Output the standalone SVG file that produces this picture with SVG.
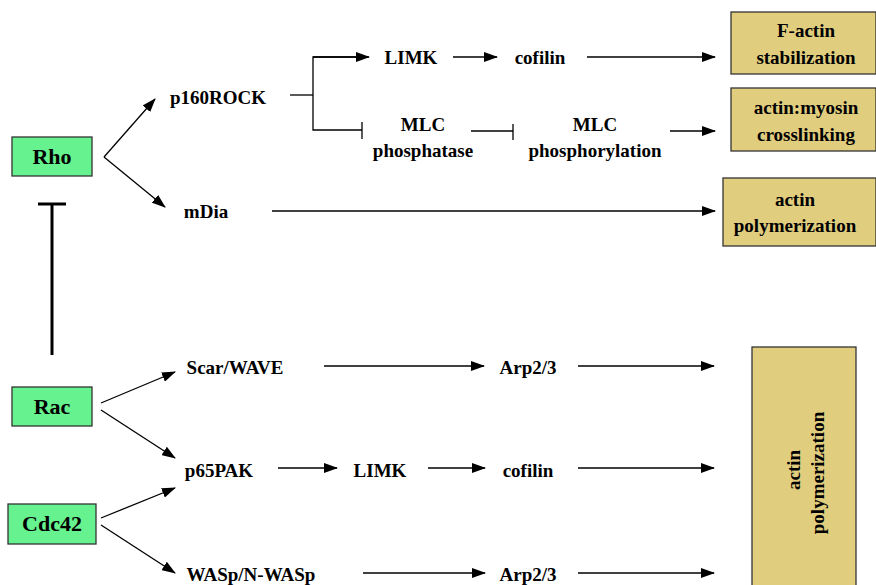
<svg xmlns="http://www.w3.org/2000/svg" width="876" height="585" viewBox="0 0 876 585">
<defs>
<marker id="ah" markerUnits="userSpaceOnUse" markerWidth="14" markerHeight="10" refX="13" refY="5" orient="auto">
<path d="M0,0 L14,5 L0,10 z" fill="#000"/>
</marker>
<style>
text{font-family:"Liberation Serif","Times New Roman",serif;font-weight:bold;fill:#000;text-anchor:middle}
.lbl{font-size:19px}
.big{font-size:22px}
.g{fill:#66F28E;stroke:#333;stroke-width:1.3}
.t{fill:#E1CD7E;stroke:#333;stroke-width:1.3}
.c{stroke:#000;stroke-width:1.3;fill:none}
.a{marker-end:url(#ah)}
</style>
</defs>
<g id="connectors">
<line class="c a" x1="104" y1="157" x2="155" y2="99"/>
<line class="c a" x1="104" y1="157" x2="165" y2="207"/>
<line x1="52" y1="204" x2="52" y2="355" stroke="#000" stroke-width="3"/>
<line x1="38" y1="204" x2="66" y2="204" stroke="#000" stroke-width="3"/>
<polyline class="c" points="290,95 313,95"/>
<polyline class="c a" points="368,57 313,57 313,130 362,130" style="marker-end:none"/>
<line class="c a" x1="313" y1="57" x2="369" y2="57"/>
<line class="c" x1="362" y1="122" x2="362" y2="139"/>
<line class="c a" x1="453" y1="57" x2="497" y2="57"/>
<line class="c a" x1="587" y1="57" x2="715" y2="57"/>
<line class="c" x1="471" y1="131" x2="513" y2="131"/>
<line class="c" x1="513" y1="124" x2="513" y2="140"/>
<line class="c a" x1="670" y1="131" x2="715" y2="131"/>
<line class="c a" x1="272" y1="211" x2="715" y2="211"/>
<line class="c a" x1="101" y1="403" x2="175" y2="372"/>
<line class="c a" x1="101" y1="410" x2="175" y2="458"/>
<line class="c a" x1="101" y1="518" x2="175" y2="488"/>
<line class="c a" x1="101" y1="525" x2="175" y2="573"/>
<line class="c a" x1="324" y1="366" x2="484" y2="366"/>
<line class="c a" x1="578" y1="366" x2="714" y2="366"/>
<line class="c a" x1="278" y1="468" x2="337" y2="468"/>
<line class="c a" x1="428" y1="468" x2="485" y2="468"/>
<line class="c a" x1="578" y1="468" x2="714" y2="468"/>
<line class="c a" x1="363" y1="573" x2="485" y2="573"/>
<line class="c a" x1="578" y1="573" x2="714" y2="573"/>
</g>
<g id="rho"><rect class="g" x="12" y="137" width="80" height="39"/><text class="big" x="52" y="164">Rho</text></g>
<g id="rac"><rect class="g" x="12" y="387" width="80" height="39"/><text class="big" x="52" y="414">Rac</text></g>
<g id="cdc42"><rect class="g" x="8" y="504" width="88" height="40"/><text class="big" x="52" y="531">Cdc42</text></g>
<g id="p160rock"><text class="lbl" x="218" y="104">p160ROCK</text></g>
<g id="mdia"><text class="lbl" x="206" y="218">mDia</text></g>
<g id="limk1"><text class="lbl" x="411" y="64">LIMK</text></g>
<g id="cofilin1"><text class="lbl" x="540" y="64">cofilin</text></g>
<g id="mlcphosphatase"><text class="lbl" x="423" y="131">MLC</text><text class="lbl" x="423" y="157">phosphatase</text></g>
<g id="mlcphosphorylation"><text class="lbl" x="595" y="131">MLC</text><text class="lbl" x="595" y="157">phosphorylation</text></g>
<g id="factin"><rect class="t" x="731" y="12" width="145" height="62"/><text class="lbl" x="806" y="37">F-actin</text><text class="lbl" x="806" y="64">stabilization</text></g>
<g id="actinmyosin"><rect class="t" x="731" y="88" width="145" height="63"/><text class="lbl" x="806" y="114">actin:myosin</text><text class="lbl" x="806" y="141">crosslinking</text></g>
<g id="actinpoly1"><rect class="t" x="723" y="178" width="153" height="68"/><text class="lbl" x="795" y="206">actin</text><text class="lbl" x="795" y="232">polymerization</text></g>
<g id="scarwave"><text class="lbl" x="235" y="374">Scar/WAVE</text></g>
<g id="arp23a"><text class="lbl" x="528" y="374">Arp2/3</text></g>
<g id="p65pak"><text class="lbl" x="219" y="477">p65PAK</text></g>
<g id="limk2"><text class="lbl" x="380" y="477">LIMK</text></g>
<g id="cofilin2"><text class="lbl" x="528" y="477">cofilin</text></g>
<g id="wasp"><text class="lbl" x="251" y="581">WASp/N-WASp</text></g>
<g id="arp23b"><text class="lbl" x="528" y="581">Arp2/3</text></g>
<g id="actinpoly2"><rect class="t" x="752" y="347" width="104" height="250"/><text class="lbl" transform="translate(800,470) rotate(-90)">actin</text><text class="lbl" transform="translate(824,473) rotate(-90)">polymerization</text></g>
</svg>
